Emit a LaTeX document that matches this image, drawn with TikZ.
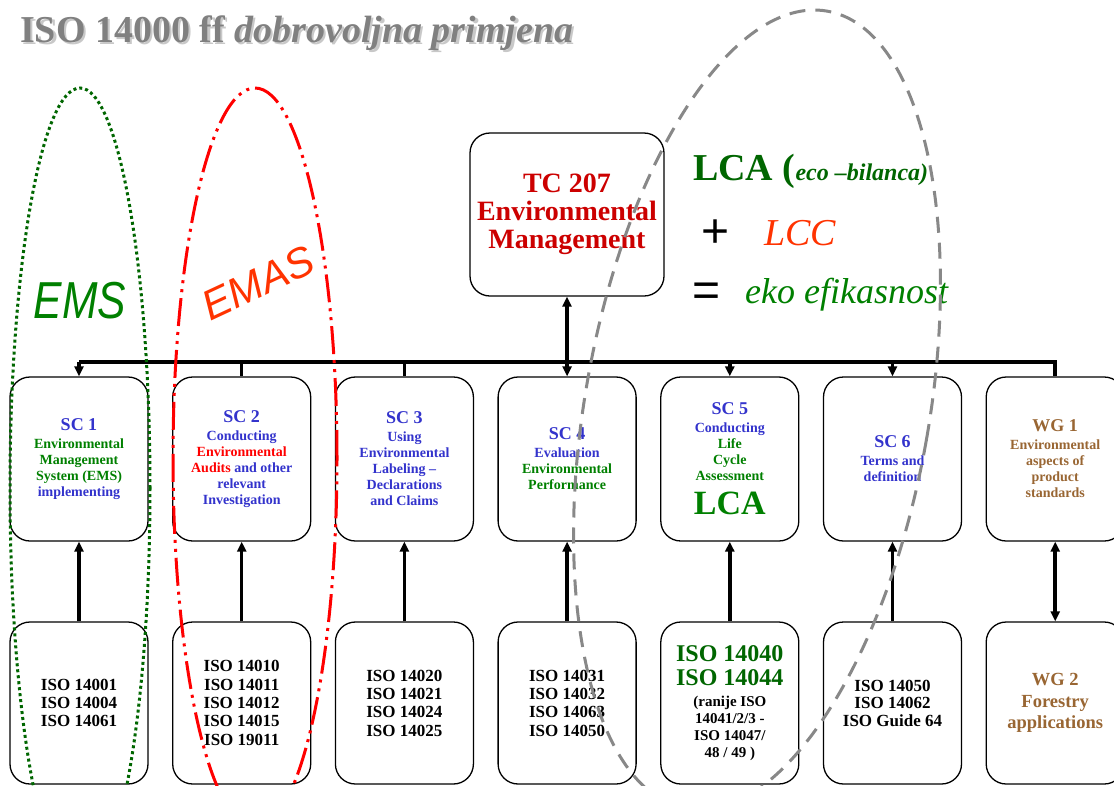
\documentclass[tikz,border=0pt]{standalone}
\usepackage{graphicx}
\usepackage{fontspec}
\setmainfont{Liberation Serif}
\newfontfamily\sansf{Liberation Sans}
\usetikzlibrary{arrows.meta}
\definecolor{scblue}{HTML}{3333CC}
\definecolor{txgreen}{HTML}{008000}
\definecolor{dkgreen}{HTML}{006600}
\definecolor{tcred}{HTML}{CC0000}
\definecolor{orred}{HTML}{FF3300}
\definecolor{brownwg}{HTML}{996633}
\definecolor{titlegray}{HTML}{808080}
\definecolor{shadowgray}{HTML}{C8C8C8}
\definecolor{ellgray}{HTML}{888888}
\newcommand{\myfs}[2]{\fontsize{#1}{#2}\selectfont}
\begin{document}
\begin{tikzpicture}[x=1pt,y=-1pt,
  box/.style={draw=black, line width=1.3pt, rounded corners=20pt, fill=white,
    minimum width=138pt, minimum height=164pt, inner sep=0pt, align=center,
    font=\bfseries\myfs{14}{16}},
  isobox/.style={box, minimum height=162pt, font=\bfseries\myfs{17}{18.3}},
  conn/.style={line width=3.5pt},
  arrowtip/.style={-{Triangle[length=10pt,width=9pt]}},
  emsell/.style={draw=dkgreen, line width=3pt, dash pattern=on 3pt off 3pt},
  emasell/.style={draw=red, line width=3pt, dash pattern=on 28pt off 6pt on 3pt off 6pt on 3pt off 6pt},
  lcaell/.style={draw=ellgray, line width=3pt, dash pattern=on 16pt off 10pt}
]
\useasboundingbox (0,0) rectangle (1114,785);
\fill[white] (0,0) rectangle (1114,785);
\begin{scope}
\clip (0,0) rectangle (1114,785);

% title
\node[anchor=base west, text=shadowgray, font=\bfseries\myfs{38}{38}, inner sep=0pt] (titleshadow) at (22.5,44.5) {ISO 14000 ff \textit{dobrovoljna primjena}};
\node[anchor=base west, text=titlegray, font=\bfseries\myfs{38}{38}, inner sep=0pt] (title) at (20,42) {ISO 14000 ff \textit{dobrovoljna primjena}};

% TC box
\node[box, minimum width=194pt, minimum height=163pt, font=\bfseries\myfs{28}{28}, text=tcred] (tc) at (567,214.5) {TC 207\\Environmental\\Management};

% SC boxes
\node[box] (sc1) at (79,459) {{\color{scblue}\myfs{18}{18}SC 1}\\[2pt]\textcolor{txgreen}{Environmental}\\\textcolor{txgreen}{Management}\\\textcolor{txgreen}{System (EMS)}\\\textcolor{scblue}{implementing}};
\node[box, text=scblue] (sc2) at (241.7,459) {{\myfs{18}{18}SC 2}\\[2pt]Conducting\\\textcolor{red}{Environmental}\\\textcolor{red}{Audits} and other\\relevant\\Investigation};
\node[box, text=scblue] (sc3) at (404.4,459) {{\myfs{18}{18}SC 3}\\[2pt]Using\\Environmental\\Labeling --\\Declarations\\and Claims};
\node[box, text=scblue] (sc4) at (567.1,459) {{\myfs{18}{18}SC 4}\\[2pt]Evaluation\\\textcolor{txgreen}{Environmental}\\\textcolor{txgreen}{Performance}};
\node[box, text=scblue] (sc5) at (729.8,459) {{\myfs{18}{18}SC 5}\\[2pt]Conducting\\\textcolor{txgreen}{Life}\\\textcolor{txgreen}{Cycle}\\\textcolor{txgreen}{Assessment}\\[10pt]{\color{txgreen}\myfs{34}{34}LCA}};
\node[box, text=scblue] (sc6) at (892.5,459) {{\myfs{18}{18}SC 6}\\[2pt]Terms and\\definition};
\node[box, text=brownwg] (wg1) at (1055.2,459) {{\myfs{18}{18}WG 1}\\[2pt]Environmental\\aspects of\\product\\standards};

% bottom boxes
\node[isobox] (iso1) at (79,703) {ISO 14001\\ISO 14004\\ISO 14061};
\node[isobox] (iso2) at (241.7,703) {ISO 14010\\ISO 14011\\ISO 14012\\ISO 14015\\ISO 19011};
\node[isobox] (iso3) at (404.4,703) {ISO 14020\\ISO 14021\\ISO 14024\\ISO 14025};
\node[isobox] (iso4) at (567.1,703) {ISO 14031\\ISO 14032\\ISO 14063\\ISO 14050};
\node[isobox, font=\bfseries\myfs{15}{17}] (iso5) at (729.8,703) {{\color{dkgreen}\myfs{24}{24}ISO 14040}\\[7pt]{\color{dkgreen}\myfs{24}{24}ISO 14044}\\[4pt](ranije ISO\\14041/2/3 -\\ISO 14047/\\48 / 49 )};
\node[isobox, font=\bfseries\myfs{17}{17.5}] (iso6) at (892.5,703) {ISO 14050\\ISO 14062\\ISO Guide 64};
\node[isobox, text=brownwg, font=\bfseries\myfs{18.5}{21.7}] (wg2) at (1055.2,703) {WG 2\\Forestry\\applications};

% connectors
\coordinate (bus) at (0,362);
\draw[conn] (sc1.north |- bus) -- (wg1.north |- bus) -- (wg1.north);
\draw[conn, arrowtip] (tc.south |- bus) -- (tc.south);
\draw[conn, arrowtip] (sc1.north |- bus) -- (sc1.north);
\draw[conn] (sc2.north |- bus) -- (sc2.north);
\draw[conn] (sc3.north |- bus) -- (sc3.north);
\draw[conn, arrowtip] (sc4.north |- bus) -- (sc4.north);
\draw[conn, arrowtip] (sc5.north |- bus) -- (sc5.north);
\draw[conn, arrowtip] (sc6.north |- bus) -- (sc6.north);
\draw[conn, arrowtip] (iso1.north) -- (sc1.south);
\draw[conn, arrowtip] (iso2.north) -- (sc2.south);
\draw[conn, arrowtip] (iso3.north) -- (sc3.south);
\draw[conn, arrowtip] (iso4.north) -- (sc4.south);
\draw[conn, arrowtip] (iso5.north) -- (sc5.south);
\draw[conn, arrowtip] (iso6.north) -- (sc6.south);
\draw[conn, {Triangle[length=10pt,width=9pt]}-{Triangle[length=10pt,width=9pt]}] (wg2.north) -- (wg1.south);

% right-hand formula
\node[anchor=base west, text=dkgreen, font=\bfseries, inner sep=0pt] (lca) at (693,180) {{\myfs{38}{38}LCA (}{\myfs{24}{24}\itshape eco --bilanca)}};
\node[font=\sansf\myfs{48}{48}, inner sep=0pt] (plus) at (716,234) {+};
\node[anchor=base west, text=orred, font=\itshape\myfs{38}{38}, inner sep=0pt] (lcc) at (764,245) {LCC};
\node[font=\sansf\myfs{48}{48}, inner sep=0pt] (eq) at (707,295) {=};
\node[anchor=base west, text=txgreen, font=\itshape\myfs{36}{36}, inner sep=0pt] (eko) at (745,303) {eko efikasnost};

% ellipse labels
\node[anchor=base, text=txgreen, inner sep=0pt] (ems) at (80,318) {\scalebox{0.82}[1]{\sansf\itshape\myfs{52}{52}EMS}};
\node[text=orred, rotate=25, inner sep=0pt, font=\sansf\itshape\myfs{42}{42}] (emas) at (258,283) {EMAS};

% ellipses
\draw[emsell] (80,488) ellipse [x radius=70pt, y radius=400pt];
\draw[emasell] (255,458) ellipse [x radius=82pt, y radius=370pt];
\draw[lcaell, rotate around={-10:(757,410)}] (757,410) ellipse [x radius=172pt, y radius=405pt];
\end{scope}
\end{tikzpicture}
\end{document}
